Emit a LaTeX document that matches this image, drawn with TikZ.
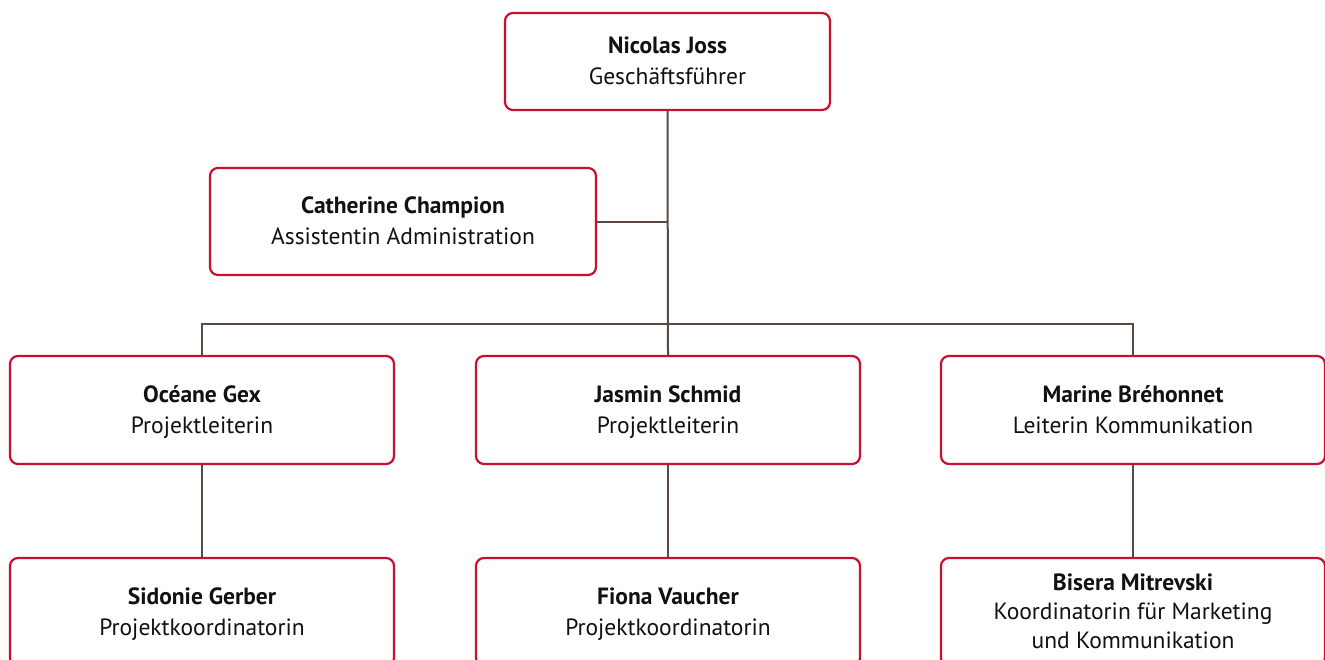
\documentclass[tikz,border=0pt]{standalone}
\usepackage{fontspec}
\setmainfont{PT Sans}
\definecolor{boxred}{HTML}{C8102E}
\definecolor{linebrown}{HTML}{5A4A42}
\definecolor{txt}{HTML}{111111}
\newcommand{\nm}[1]{\textbf{\vphantom{É}#1}}
\newcommand{\rl}[1]{\vphantom{j}#1}
\begin{document}
\begin{tikzpicture}[x=1pt,y=-1pt,
  person/.style={draw=boxred, line width=2.2pt, rounded corners=8pt, fill=white,
    minimum width=384pt, minimum height=108pt, align=center, text=txt, inner sep=0pt,
    font=\fontsize{23.5}{31}\selectfont},
  link/.style={draw=linebrown, line width=2pt}]
\useasboundingbox (0,0) rectangle (1325,659);
\clip (0,0) rectangle (1325,659);
\node[person, minimum width=325pt, minimum height=97pt] (ceo) at (667.5,61.5) {\nm{Nicolas Joss}\\\rl{Geschäftsführer}};
\node[person, minimum width=386pt, minimum height=107pt] (cat) at (403,221.5) {\nm{Catherine Champion}\\\rl{Assistentin Administration}};
\node[person] (p1) at (202,410) {\nm{Océane Gex}\\\rl{Projektleiterin}};
\node[person] (p2) at (668,410) {\nm{Jasmin Schmid}\\\rl{Projektleiterin}};
\node[person] (p3) at (1133,410) {\nm{Marine Bréhonnet}\\\rl{Leiterin Kommunikation}};
\node[person] (c1) at (202,612) {\nm{Sidonie Gerber}\\\rl{Projektkoordinatorin}};
\node[person] (c2) at (668,612) {\nm{Fiona Vaucher}\\\rl{Projektkoordinatorin}};
\node[person, font=\fontsize{23.5}{29}\selectfont] (c3) at (1133,612) {\nm{Bisera Mitrevski}\\Koordinatorin für Marketing\\\rl{und Kommunikation}};
\coordinate (bus) at (668,324);
\draw[link] (ceo.south) -- (p2.north);
\draw[link] (cat.east) -- (cat.east -| ceo.south);
\draw[link] (p1.north) |- (p3.north |- bus) -- (p3.north);
\draw[link] (p1.south) -- (c1.north);
\draw[link] (p2.south) -- (c2.north);
\draw[link] (p3.south) -- (c3.north);
\end{tikzpicture}
\end{document}
